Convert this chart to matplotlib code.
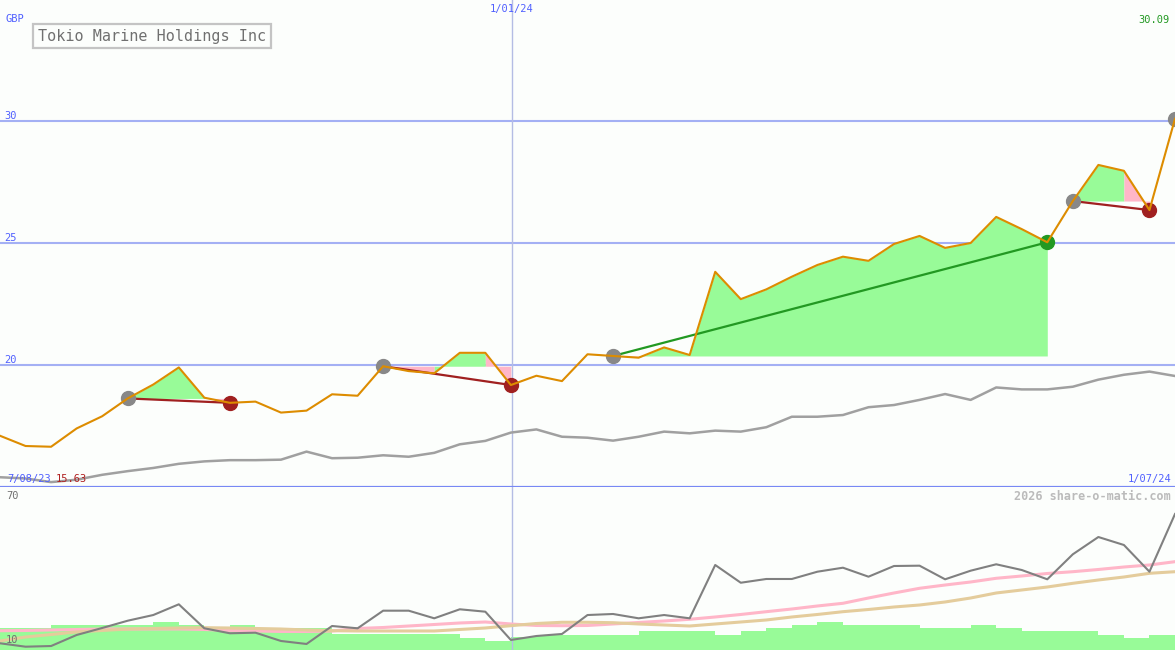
import numpy as np
import matplotlib.pyplot as plt

# weekly closes (GBP), 7/08/23 .. 1/07/24
price = [17.1, 16.68, 16.65, 17.4, 17.9, 18.63, 19.2, 19.9, 18.66, 18.45,
         18.5, 18.05, 18.13, 18.8, 18.74, 19.95, 19.75, 19.66, 20.5, 20.5,
         19.18, 19.56, 19.34, 20.44, 20.37, 20.3, 20.72, 20.41, 23.82, 22.7,
         23.1, 23.62, 24.1, 24.44, 24.27, 24.96, 25.29, 24.8, 25.0, 26.07,
         25.57, 25.03, 26.72, 28.2, 27.96, 26.35, 30.09]
# long moving average
avg = [15.4, 15.35, 15.2, 15.3, 15.5, 15.65, 15.78, 15.95, 16.05, 16.1,
       16.1, 16.12, 16.45, 16.18, 16.2, 16.3, 16.24, 16.4, 16.75, 16.89,
       17.23, 17.36, 17.06, 17.02, 16.9, 17.06, 17.27, 17.2, 17.31, 17.27,
       17.45, 17.88, 17.88, 17.95, 18.27, 18.36, 18.57, 18.81, 18.57, 19.08,
       19.0, 19.0, 19.11, 19.4, 19.6, 19.73, 19.55]
# oscillator + its two averages (lower panel, 10..70)
osc = [10.66, 9.34, 9.6, 13.87, 16.58, 19.4, 21.6, 25.75, 16.46, 14.53,
       14.76, 11.55, 10.39, 17.35, 16.46, 23.28, 23.28, 20.33, 23.82, 22.89,
       11.94, 13.48, 14.26, 21.6, 22.0, 20.33, 21.6, 20.33, 40.97, 34.1,
       35.55, 35.55, 38.37, 39.92, 36.44, 40.58, 40.7, 35.43, 38.76, 41.24,
       39.03, 35.43, 45.11, 51.8, 48.71, 38.37, 60.71]
osc_fast = [15.53, 15.61, 15.81, 16.0, 16.19, 16.19, 16.19, 16.19, 16.0, 15.61,
            15.42, 15.23, 15.23, 15.42, 16.39, 16.77, 17.35, 17.93, 18.52, 18.9,
            18.13, 17.55, 17.47, 17.55, 18.13, 18.71, 19.29, 19.95, 20.84, 21.81,
            22.89, 23.93, 25.1, 26.14, 28.19, 30.13, 31.95, 33.22, 34.39, 35.82,
            36.71, 37.68, 38.37, 39.23, 40.19, 40.97, 42.25]
osc_slow = [11.55, 13.1, 14.06, 15.03, 15.61, 16.19, 16.39, 16.58, 16.7, 16.58,
            16.39, 16.19, 15.81, 15.53, 15.42, 15.42, 15.42, 15.42, 16.0, 16.58,
            17.47, 18.32, 18.79, 18.79, 18.63, 18.13, 17.74, 17.35, 18.13, 18.9,
            19.68, 20.84, 21.81, 22.89, 23.74, 24.71, 25.48, 26.65, 28.19, 30.13,
            31.29, 32.45, 33.88, 35.16, 36.32, 37.75, 38.37]
volume = [223, 223, 250, 250, 250, 250, 283, 250, 223, 250,
          220, 220, 220, 160, 160, 160, 160, 160, 117, 93,
          130, 150, 150, 150, 150, 190, 190, 190, 150, 190,
          220, 250, 280, 250, 250, 250, 220, 220, 250, 220,
          190, 190, 190, 150, 120, 150, 150]
# (entry week, exit week)
trades = [(5, 9), (15, 20), (24, 41), (42, 45)]
open_entry = 46

x = np.arange(len(price))
bg = '#fcfefc'
blue = '#5060ff'
mono = 'DejaVu Sans Mono'
up_fill, down_fill = '#98fb98', '#ffb6c8'

fig = plt.figure(figsize=(11.75, 6.5), dpi=100, facecolor=bg)
ax = fig.add_axes([0, 163 / 650, 1, 487 / 650], facecolor=bg)
ax_vol = fig.add_axes([0, 0, 1, 163 / 650], facecolor=bg)
ax_osc = fig.add_axes([0, 0, 1, 163 / 650], facecolor='none')

for a in (ax, ax_vol, ax_osc):
    a.set_xlim(0, len(price) - 1)
    a.set_xticks([])
    a.set_yticks([])
    for s in a.spines.values():
        s.set_visible(False)

ax.set_ylim(15, 34.96)
ax_vol.set_ylim(0, 1630)
ax_osc.set_ylim(8.06, 71.16)

# grid
for lvl in (20, 25, 30):
    ax.axhline(lvl, color='#a4b0f4', lw=1.5, zorder=1)
    ax.text(0.15, lvl + 0.22, str(lvl), color=blue, fontsize=7.5,
            family=mono, va='center', ha='left')
ax.axhline(15, color='#7888f4', lw=1.6, clip_on=False, zorder=5)
ax.axvline(20.05, color='#b4bce4', lw=1, zorder=1)
ax_osc.axvline(20.05, color='#b4bce4', lw=1, zorder=1)

# trade shading + trade lines
for i0, i1 in trades:
    entry = price[i0]
    # colour each week by where it closed vs the entry, merge runs
    cols = ['up' if price[k + 1] >= entry else 'down' for k in range(i0, i1)]
    start = i0
    for k in range(i0, i1):
        last = (k == i1 - 1) or cols[k - i0 + 1] != cols[k - i0]
        if last:
            c = up_fill if cols[k - i0] == 'up' else down_fill
            ax.fill_between(x[start:k + 2], price[start:k + 2], entry,
                            color=c, lw=0, zorder=2)
            start = k + 1
    win = price[i1] > entry
    lc = '#229922' if win else '#a02020'
    ax.plot([i0, i1], [entry, price[i1]], color=lc, lw=1.6, zorder=3)
    ax.plot(i0, entry, 'o', color='#888888', ms=10, zorder=4)
    ax.plot(i1, price[i1], 'o', color=lc, ms=10, zorder=4)
ax.plot(open_entry, price[open_entry], 'o', color='#888888', ms=10, zorder=4)

ax.plot(x, avg, color='#a0a0a0', lw=1.8, zorder=3)
ax.plot(x, price, color='#dd8c00', lw=1.5, zorder=5)

# lower panel
ax_vol.bar(x, volume, width=1, align='edge', color='#98fb98', lw=0)
ax_osc.plot(x, osc_fast, color='#ffb6c8', lw=2.2)
ax_osc.plot(x, osc_slow, color='#e4cc9c', lw=2.2)
ax_osc.plot(x, osc, color='#808080', lw=1.5)

# labels
W, H = 1175, 650
def ftext(px, py, s, **kw):
    fig.text(px / W, 1 - py / H, s, family=mono, **kw)

ftext(6, 19, 'GBP', color=blue, fontsize=7.5, va='center')
ftext(38, 36, 'Tokio Marine Holdings Inc', color='#707070', fontsize=10.9,
      va='center',
      bbox=dict(boxstyle='square,pad=0.3', fc=bg, ec='#c4c4c4', lw=1.6))
ftext(1170, 20, '30.09', color='#229922', fontsize=7.5, va='center',
      ha='right')
ftext(512, 9, '1/01/24', color=blue, fontsize=7.5, va='center', ha='center')
ftext(7, 479, '7/08/23', color=blue, fontsize=7.5, va='center')
ftext(56, 479, '15.63', color='#b02020', fontsize=7.5, va='center')
ftext(1171, 479, '1/07/24', color=blue, fontsize=7.5, va='center',
      ha='right')
ftext(1171, 496, '2026 share-o-matic.com', color='#bbbbbb', fontsize=8.5,
      va='center', ha='right', weight='bold')
ftext(6, 496, '70', color='#707070', fontsize=7.5, va='center')
ftext(6, 640, '10', color='#707070', fontsize=7.5, va='center')

fig.savefig('out.png', dpi=100, facecolor=bg)
